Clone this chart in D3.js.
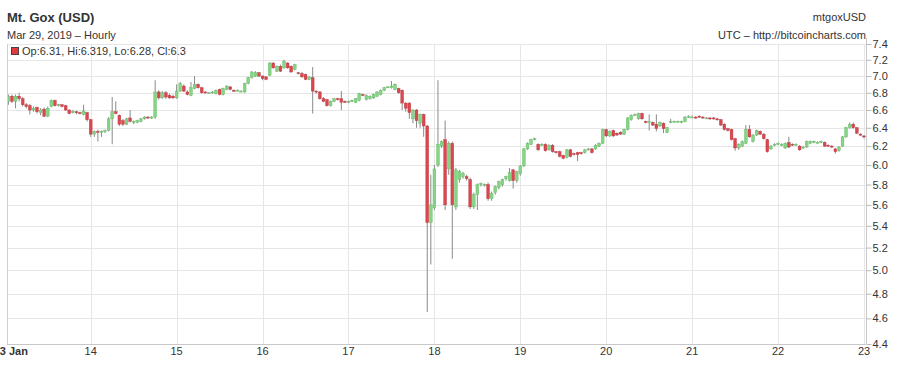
<!DOCTYPE html>
<html>
<head>
<meta charset="utf-8">
<script src="https://cdn.jsdelivr.net/npm/d3@7"></script>
<style>
body { margin: 0; background: #fff; }
svg { display: block; font-family: "Liberation Sans", Arial, sans-serif; }
</style>
</head>
<body>
<svg></svg>
<script>
// hourly candles, one array per day, rows are [open, high, low, close]
var day13 = [
    [6.70,6.78,6.66,6.76],[6.76,6.78,6.68,6.70],[6.70,6.78,6.62,6.76],[6.76,6.80,6.70,6.73],
    [6.73,6.75,6.64,6.66],[6.66,6.68,6.62,6.64],[6.65,6.67,6.55,6.60],[6.60,6.64,6.58,6.62],
    [6.63,6.64,6.56,6.58],[6.57,6.62,6.54,6.60],[6.61,6.63,6.52,6.53],[6.53,6.64,6.52,6.62],
    [6.64,6.72,6.63,6.71],[6.71,6.72,6.64,6.65],[6.66,6.67,6.64,6.66],[6.66,6.67,6.63,6.64],
    [6.65,6.66,6.59,6.60],[6.60,6.61,6.55,6.56],[6.57,6.60,6.56,6.58],[6.58,6.59,6.55,6.57],
    [6.57,6.58,6.55,6.56],[6.55,6.66,6.54,6.59],[6.57,6.58,6.47,6.49],[6.49,6.50,6.30,6.33]
]
var day14 = [
    [6.33,6.37,6.30,6.36],[6.36,6.38,6.25,6.35],[6.35,6.37,6.30,6.36],[6.36,6.38,6.34,6.37],
    [6.37,6.52,6.36,6.50],[6.50,6.75,6.22,6.58],[6.58,6.70,6.55,6.56],[6.54,6.55,6.42,6.44],
    [6.48,6.50,6.42,6.44],[6.44,6.51,6.43,6.50],[6.51,6.60,6.46,6.47],[6.46,6.48,6.44,6.47],
    [6.46,6.49,6.45,6.48],[6.47,6.51,6.46,6.50],[6.50,6.53,6.49,6.52],[6.52,6.53,6.50,6.51],
    [6.51,6.53,6.50,6.52],[6.52,6.95,6.50,6.81],[6.81,6.83,6.72,6.74],[6.74,6.82,6.73,6.80],
    [6.80,6.82,6.73,6.75],[6.77,6.79,6.73,6.74],[6.76,6.78,6.73,6.74],[6.74,6.90,6.73,6.82]
]
var day15 = [
    [6.82,6.93,6.81,6.91],[6.88,6.90,6.81,6.82],[6.81,6.83,6.77,6.78],[6.77,6.93,6.76,6.86],
    [6.85,7.00,6.84,6.90],[6.90,6.91,6.85,6.86],[6.86,6.87,6.79,6.80],[6.81,6.82,6.79,6.80],
    [6.80,6.81,6.79,6.80],[6.80,6.82,6.79,6.81],[6.79,6.84,6.78,6.83],[6.84,6.85,6.77,6.78],
    [6.78,6.86,6.77,6.85],[6.84,6.89,6.83,6.88],[6.87,6.88,6.83,6.84],[6.83,6.84,6.81,6.82],
    [6.83,6.84,6.82,6.83],[6.82,6.83,6.81,6.82],[6.81,6.92,6.80,6.91],[6.91,6.99,6.90,6.98],
    [6.98,7.06,6.97,7.05],[7.00,7.06,6.99,7.04],[7.04,7.05,6.99,7.00],[7.00,7.01,6.95,6.97]
]
var day16 = [
    [6.99,7.00,6.95,6.96],[7.01,7.17,7.00,7.16],[7.16,7.17,7.09,7.10],[7.06,7.13,7.05,7.12],
    [7.12,7.14,7.05,7.06],[7.10,7.20,7.09,7.18],[7.16,7.17,7.09,7.10],[7.12,7.13,7.04,7.05],
    [7.08,7.15,7.07,7.14],[7.04,7.05,7.02,7.03],[7.03,7.05,6.98,6.99],[7.02,7.03,6.95,6.96],
    [6.96,7.00,6.95,6.99],[6.98,7.11,6.56,6.82],[6.82,6.83,6.79,6.81],[6.81,6.82,6.72,6.73],
    [6.73,6.75,6.69,6.70],[6.72,6.73,6.64,6.65],[6.65,6.71,6.64,6.70],[6.70,6.74,6.69,6.73],
    [6.73,6.74,6.71,6.72],[6.73,6.82,6.60,6.69],[6.70,6.71,6.68,6.69],[6.69,6.71,6.68,6.70]
]
var day17 = [
    [6.70,6.72,6.69,6.71],[6.69,6.74,6.68,6.73],[6.71,6.80,6.70,6.79],[6.78,6.79,6.76,6.77],
    [6.72,6.78,6.71,6.77],[6.73,6.77,6.72,6.76],[6.74,6.79,6.73,6.78],[6.76,6.82,6.75,6.81],
    [6.78,6.84,6.77,6.83],[6.83,6.87,6.82,6.86],[6.87,6.88,6.86,6.87],[6.86,6.94,6.85,6.88],
    [6.84,6.91,6.83,6.90],[6.85,6.86,6.79,6.80],[6.83,6.84,6.60,6.68],[6.68,6.69,6.58,6.62],
    [6.68,6.69,6.50,6.57],[6.50,6.61,6.45,6.60],[6.60,6.61,6.40,6.48],[6.45,6.56,6.40,6.55],
    [6.55,6.56,6.30,6.42],[6.42,6.43,4.65,5.43],[5.43,5.90,5.05,5.60],[5.57,6.00,5.55,5.96]
]
var day18 = [
    [6.00,6.95,5.98,6.22],[6.20,6.26,6.18,6.25],[6.27,6.48,5.55,5.60],[5.96,6.25,5.90,6.23],
    [6.23,6.25,5.10,5.60],[5.58,5.97,5.55,5.95],[5.85,5.95,5.82,5.93],[5.88,5.93,5.86,5.91],
    [5.88,5.90,5.84,5.86],[5.85,5.87,5.56,5.58],[5.58,5.72,5.56,5.70],[5.70,5.81,5.55,5.80],
    [5.80,5.82,5.78,5.81],[5.80,5.81,5.78,5.80],[5.80,5.82,5.64,5.66],[5.66,5.73,5.64,5.71],
    [5.72,5.79,5.70,5.78],[5.77,5.84,5.75,5.83],[5.80,5.86,5.78,5.85],[5.86,5.89,5.84,5.88],
    [5.84,5.97,5.83,5.92],[5.95,5.96,5.76,5.84],[5.84,5.94,5.82,5.93],[5.91,6.00,5.89,5.99]
]
var day19 = [
    [5.99,6.18,5.98,6.17],[6.17,6.24,6.16,6.23],[6.22,6.28,6.21,6.27],[6.27,6.29,6.26,6.28],
    [6.22,6.23,6.15,6.16],[6.21,6.23,6.20,6.22],[6.22,6.23,6.14,6.15],[6.16,6.22,6.15,6.21],
    [6.21,6.22,6.13,6.14],[6.14,6.15,6.12,6.13],[6.14,6.15,6.08,6.09],[6.10,6.11,6.06,6.07],
    [6.08,6.17,6.07,6.16],[6.16,6.17,6.08,6.09],[6.12,6.13,6.10,6.11],[6.13,6.14,6.04,6.11],
    [6.13,6.14,6.11,6.12],[6.13,6.17,6.12,6.16],[6.16,6.18,6.15,6.17],[6.17,6.18,6.12,6.13],
    [6.17,6.22,6.16,6.21],[6.20,6.24,6.19,6.23],[6.23,6.39,6.22,6.38],[6.38,6.39,6.30,6.31]
]
var day20 = [
    [6.31,6.37,6.30,6.36],[6.37,6.38,6.30,6.31],[6.34,6.35,6.31,6.32],[6.35,6.36,6.32,6.33],
    [6.33,6.39,6.32,6.38],[6.38,6.52,6.37,6.51],[6.49,6.55,6.48,6.54],[6.54,6.56,6.53,6.55],
    [6.50,6.57,6.49,6.56],[6.56,6.57,6.49,6.50],[6.47,6.48,6.45,6.46],[6.46,6.55,6.37,6.47],
    [6.46,6.47,6.42,6.43],[6.44,6.55,6.36,6.39],[6.42,6.47,6.41,6.46],[6.45,6.46,6.34,6.39],
    [6.35,6.41,6.34,6.40],[6.46,6.50,6.45,6.47],[6.47,6.48,6.46,6.47],[6.47,6.48,6.46,6.47],
    [6.46,6.48,6.45,6.47],[6.47,6.53,6.46,6.52],[6.52,6.54,6.51,6.53],[6.52,6.54,6.51,6.52]
]
var day21 = [
    [6.52,6.53,6.50,6.51],[6.53,6.54,6.51,6.52],[6.52,6.53,6.50,6.51],[6.51,6.52,6.50,6.51],
    [6.51,6.52,6.49,6.50],[6.51,6.52,6.49,6.50],[6.50,6.51,6.48,6.49],[6.49,6.50,6.42,6.43],
    [6.44,6.45,6.37,6.38],[6.39,6.40,6.36,6.37],[6.38,6.39,6.26,6.27],[6.28,6.29,6.15,6.18],
    [6.18,6.23,6.16,6.22],[6.20,6.26,6.19,6.25],[6.23,6.43,6.22,6.38],[6.38,6.43,6.29,6.30],
    [6.25,6.33,6.24,6.32],[6.32,6.38,6.31,6.37],[6.36,6.37,6.32,6.33],[6.33,6.34,6.27,6.28],
    [6.27,6.28,6.13,6.14],[6.17,6.21,6.16,6.20],[6.21,6.23,6.20,6.22],[6.22,6.24,6.21,6.23]
]
var day22 = [
    [6.22,6.23,6.20,6.22],[6.18,6.24,6.17,6.23],[6.24,6.30,6.18,6.19],[6.22,6.23,6.20,6.21],
    [6.21,6.23,6.20,6.22],[6.20,6.21,6.15,6.16],[6.18,6.20,6.17,6.19],[6.19,6.26,6.18,6.25],
    [6.23,6.26,6.22,6.25],[6.24,6.26,6.23,6.25],[6.24,6.25,6.23,6.24],[6.24,6.26,6.23,6.25],
    [6.24,6.25,6.19,6.20],[6.21,6.22,6.19,6.20],[6.20,6.21,6.18,6.19],[6.17,6.18,6.12,6.14],
    [6.15,6.20,6.14,6.19],[6.20,6.31,6.19,6.30],[6.30,6.41,6.29,6.40],[6.40,6.46,6.39,6.44],
    [6.44,6.46,6.39,6.40],[6.40,6.41,6.33,6.34],[6.33,6.34,6.31,6.32],[6.31,6.319,6.28,6.30]
]

var days = [day13, day14, day15, day16, day17, day18, day19, day20, day21, day22]
var yTicks = [4.4, 4.6, 4.8, 5.0, 5.2, 5.4, 5.6, 5.8, 6.0, 6.2, 6.4, 6.6, 6.8, 7.0, 7.2, 7.4]
var dayTicks = [13, 14, 15, 16, 17, 18, 19, 20, 21, 22, 23]
var lastCandle = {op: 6.31, hi: 6.319, lo: 6.28, cl: 6.3}

var screen = {width: 899, height: 366}
var plot = {left: 7, right: 866, top: 44, bottom: 344}

// flatten the days into a list of candles with a time
var candles = []
days.forEach(function (day, d) {
    day.forEach(function (row, h) {
        candles.push({
            time: new Date(Date.UTC(2012, 0, 13 + d, h + 1)),
            open: row[0], high: row[1], low: row[2], close: row[3]
        })
    })
})

var svg = d3.select("svg")
    .attr("width", screen.width)
    .attr("height", screen.height)

var xScale = d3.scaleUtc()
    .domain([new Date(Date.UTC(2012, 0, 13)), new Date(Date.UTC(2012, 0, 23))])
    .range([4.8, 864])

var yScale = d3.scaleLog()
    .domain([4.4, 7.4])
    .range([plot.bottom, plot.top])

var dayDate = function (day) {
    return new Date(Date.UTC(2012, 0, day))
}

// grid
var grid = svg.append("g").attr("shape-rendering", "crispEdges")
grid.selectAll(".hgrid")
    .data(yTicks)
    .enter()
    .append("line")
    .attr("x1", plot.left)
    .attr("x2", plot.right)
    .attr("y1", function (t) { return Math.round(yScale(t)) + 0.5 })
    .attr("y2", function (t) { return Math.round(yScale(t)) + 0.5 })
    .attr("stroke", "#e6e6e6")
grid.selectAll(".vgrid")
    .data(dayTicks.slice(1))
    .enter()
    .append("line")
    .attr("x1", function (d) { return Math.round(xScale(dayDate(d))) + 0.5 })
    .attr("x2", function (d) { return Math.round(xScale(dayDate(d))) + 0.5 })
    .attr("y1", plot.top)
    .attr("y2", plot.bottom)
    .attr("stroke", "#e6e6e6")

// frame
grid.append("line")
    .attr("x1", plot.left + 0.5).attr("x2", plot.left + 0.5)
    .attr("y1", plot.top).attr("y2", plot.bottom)
    .attr("stroke", "#cfcfcf")
grid.append("line")
    .attr("x1", plot.left).attr("x2", plot.right)
    .attr("y1", plot.bottom + 0.5).attr("y2", plot.bottom + 0.5)
    .attr("stroke", "#c8c8c8")
grid.append("line")
    .attr("x1", plot.right + 0.5).attr("x2", plot.right + 0.5)
    .attr("y1", plot.top - 6).attr("y2", plot.bottom)
    .attr("stroke", "#c8c8c8")

// right axis
var yAxis = d3.axisRight(yScale)
    .tickValues(yTicks)
    .tickFormat(d3.format(".1f"))
    .tickSize(5)
    .tickPadding(1)
var yAxisG = svg.append("g")
    .attr("transform", "translate(" + (plot.right + 0.5) + ",0)")
    .call(yAxis)
yAxisG.select(".domain").remove()
yAxisG.selectAll("line").attr("stroke", "#bbb")
yAxisG.selectAll("text")
    .attr("fill", "#333")
    .style("font-size", "11px")
    .style("font-family", "\"Liberation Sans\", Arial, sans-serif")

// bottom axis labels, the first one is bold and runs off the left edge
svg.append("g")
    .selectAll("text")
    .data(dayTicks)
    .enter()
    .append("text")
    .attr("x", function (d) { return xScale(dayDate(d)) })
    .attr("dx", function (d) { return d == 13 ? 6 : 0 })
    .attr("y", 355)
    .attr("text-anchor", "middle")
    .attr("font-size", "11px")
    .attr("fill", "#333")
    .attr("font-weight", function (d) { return d == 13 ? "bold" : "normal" })
    .text(function (d) { return d == 13 ? "13 Jan" : d })

// candles
svg.append("clipPath")
    .attr("id", "clip")
    .append("rect")
    .attr("x", plot.left + 1)
    .attr("y", plot.top - 10)
    .attr("width", plot.right - plot.left - 1)
    .attr("height", plot.bottom - plot.top + 10)

var candleG = svg.append("g").attr("clip-path", "url(#clip)")
var bars = candleG.selectAll("g")
    .data(candles)
    .enter()
    .append("g")

bars.append("line")
    .attr("x1", function (c) { return xScale(c.time) })
    .attr("x2", function (c) { return xScale(c.time) })
    .attr("y1", function (c) { return yScale(c.high) })
    .attr("y2", function (c) { return yScale(c.low) })
    .attr("stroke", "#8a8a8a")
    .attr("stroke-width", 1)

bars.append("rect")
    .attr("x", function (c) { return xScale(c.time) - 1.4 })
    .attr("width", 2.8)
    .attr("y", function (c) { return yScale(Math.max(c.open, c.close)) })
    .attr("height", function (c) {
        return Math.max(1, yScale(Math.min(c.open, c.close)) - yScale(Math.max(c.open, c.close)))
    })
    .attr("fill", function (c) { return c.close >= c.open ? "#86d486" : "#d9474f" })
    .attr("stroke", function (c) { return c.close >= c.open ? "#5fb85f" : "#b8343c" })
    .attr("stroke-width", 0.4)

// titles
var labels = svg.append("g").attr("fill", "#333")
labels.append("text")
    .text("Mt. Gox (USD)")
    .attr("x", 7).attr("y", 22)
    .attr("font-size", "13px")
    .attr("font-weight", "bold")
labels.append("text")
    .text("Mar 29, 2019 \u2013 Hourly")
    .attr("x", 7).attr("y", 39)
    .attr("font-size", "11px")
labels.append("text")
    .text("mtgoxUSD")
    .attr("x", plot.right).attr("y", 21)
    .attr("text-anchor", "end")
    .attr("font-size", "11px")
labels.append("text")
    .text("UTC \u2013 http://bitcoincharts.com")
    .attr("x", plot.right).attr("y", 39)
    .attr("text-anchor", "end")
    .attr("font-size", "11px")

// legend of the last candle
labels.append("rect")
    .attr("x", 11.5).attr("y", 47.5)
    .attr("width", 7).attr("height", 7)
    .attr("fill", "#e03a3a")
    .attr("stroke", "#444")
labels.append("text")
    .text("Op:" + lastCandle.op + ", Hi:" + lastCandle.hi + ", Lo:" + lastCandle.lo + ", Cl:" + lastCandle.cl)
    .attr("x", 22).attr("y", 55)
    .attr("font-size", "11px")
</script>
</body>
</html>
